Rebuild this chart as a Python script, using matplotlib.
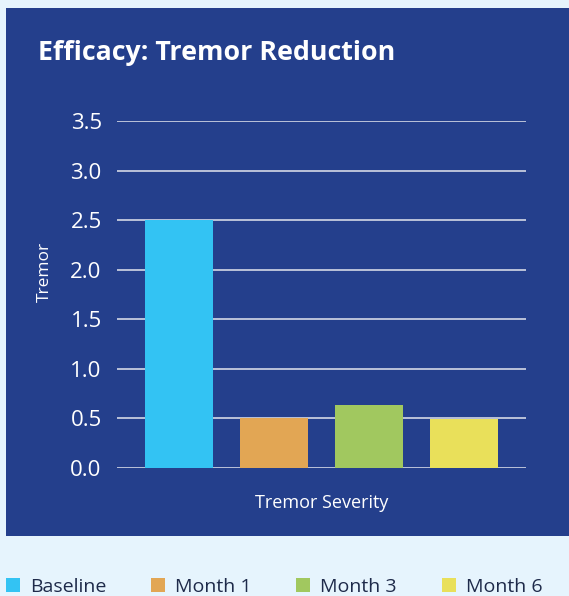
import numpy as np
import matplotlib
matplotlib.use("Agg")
import matplotlib.pyplot as plt
from matplotlib.patches import Rectangle, Patch

# data
series = ["Baseline", "Month 1", "Month 3", "Month 6"]
values = [2.5, 0.5, 0.63, 0.49]
colors = ["#33c3f3", "#e2a654", "#a1c85f", "#e9e05a"]
yticks = [0.0, 0.5, 1.0, 1.5, 2.0, 2.5, 3.0, 3.5]

panel = "#243f8c"
page = "#e6f4fd"
plt.rcParams['font.family'] = ['Open Sans', 'DejaVu Sans']

W, H = 569, 596
fig = plt.figure(figsize=(W / 100, H / 100), dpi=100)
fig.patch.set_facecolor(page)

# dark panel behind the chart
fig.patches.append(Rectangle((6 / W, 1 - 536 / H), (W - 6) / W, (536 - 8) / H,
                             transform=fig.transFigure, facecolor=panel,
                             edgecolor="none", zorder=-5))

fig.text(38 / W, 1 - 52.5 / H, "Efficacy: Tremor Reduction", color="white",
         fontsize=19.3, fontweight="bold", va="center", ha="left")

ax = fig.add_axes([117 / W, 1 - 467.7 / H, (526 - 117) / W, (467.7 - 121) / H])
ax.set_facecolor("none")
x = np.arange(len(series))
ax.bar(x, values, width=0.72, color=colors, zorder=3)
ax.set_xlim(-0.653, 3.653)
ax.set_ylim(0, 3.5)
ax.set_yticks(yticks)
ax.set_yticklabels([f"{v:.1f}" for v in yticks])
ax.set_xticks([])
ax.grid(axis="y", color="#d4d8e6", linewidth=1.2, zorder=1)
for s in ax.spines.values():
    s.set_visible(False)
ax.tick_params(axis="y", length=0, pad=11, labelsize=16, labelcolor="white")
ax.set_ylabel("Tremor", color="white", fontsize=12.5)
ax.yaxis.set_label_coords(-0.158, 0.564)
ax.set_xlabel("Tremor Severity", color="white", fontsize=13, labelpad=19)

handles = [Patch(facecolor=c, edgecolor="none") for c in colors]
fig.legend(handles, series, loc="center left", bbox_to_anchor=(0 / W, 1 - 587 / H),
           ncol=4, frameon=False, fontsize=14, handlelength=0.72, handleheight=0.72,
           handletextpad=0.52, columnspacing=2.3, labelcolor="#1e2a4a",
           borderaxespad=0, borderpad=0.3)

fig.savefig("out.png", dpi=100, facecolor=page)
